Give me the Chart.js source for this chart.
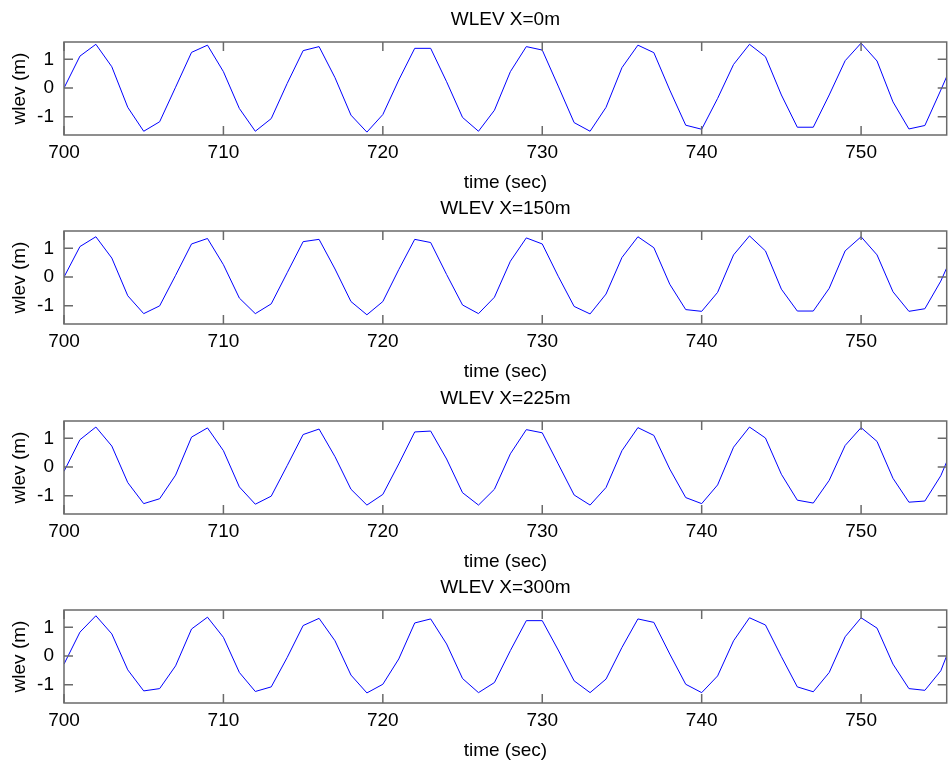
<!DOCTYPE html>
<html>
<head>
<meta charset="utf-8">
<title>WLEV</title>
<script src="https://cdn.jsdelivr.net/npm/chart.js@4.4.1/dist/chart.umd.min.js"></script>
<style>
body { margin: 0; background: #fff; }
#wrap { position: relative; width: 948px; height: 761px; overflow: hidden; }
.plot { position: absolute; left: 0; width: 948px; height: 200px; }
</style>
</head>
<body>
<div id="wrap">
  <div class="plot" style="top:0px"><canvas id="c0" width="948" height="200"></canvas></div>
  <div class="plot" style="top:189px"><canvas id="c1" width="948" height="200"></canvas></div>
  <div class="plot" style="top:379px"><canvas id="c2" width="948" height="200"></canvas></div>
  <div class="plot" style="top:568px"><canvas id="c3" width="948" height="200"></canvas></div>
</div>
<script>
// time axis (sec)
var times = [700, 701, 702, 703, 704, 705, 706, 707, 708, 709,
             710, 711, 712, 713, 714, 715, 716, 717, 718, 719,
             720, 721, 722, 723, 724, 725, 726, 727, 728, 729,
             730, 731, 732, 733, 734, 735, 736, 737, 738, 739,
             740, 741, 742, 743, 744, 745, 746, 747, 748, 749,
             750, 751, 752, 753, 754, 755, 756];

// water level (m) at each station
var wlev0 = [0.0, 1.11, 1.52, 0.74, -0.67, -1.50, -1.17, 0.03, 1.24, 1.49,
             0.57, -0.71, -1.50, -1.06, 0.16, 1.30, 1.44, 0.36, -0.94, -1.53,
             -0.92, 0.28, 1.38, 1.38, 0.22, -1.02, -1.50, -0.77, 0.57, 1.44,
             1.32, 0.07, -1.20, -1.50, -0.67, 0.71, 1.49, 1.23, -0.07, -1.29,
             -1.43, -0.36, 0.82, 1.52, 1.09, -0.24, -1.36, -1.36, -0.24, 0.95,
             1.56, 0.94, -0.48, -1.42, -1.30, -0.07, 1.2];
var wlev150 = [0.0, 1.06, 1.40, 0.66, -0.65, -1.27, -1.00, 0.06, 1.15, 1.34,
               0.43, -0.73, -1.27, -0.93, 0.15, 1.23, 1.31, 0.28, -0.85, -1.31,
               -0.85, 0.26, 1.31, 1.20, 0.09, -0.97, -1.27, -0.70, 0.55, 1.36,
               1.15, 0.03, -1.02, -1.28, -0.59, 0.68, 1.40, 1.02, -0.25, -1.13,
               -1.19, -0.53, 0.77, 1.43, 0.91, -0.42, -1.18, -1.18, -0.39, 0.91,
               1.40, 0.77, -0.51, -1.19, -1.10, -0.14, 1.1];
var wlev225 = [-0.15, 0.95, 1.39, 0.73, -0.54, -1.27, -1.10, -0.28, 1.04, 1.36,
               0.57, -0.69, -1.29, -1.01, 0.05, 1.13, 1.32, 0.36, -0.77, -1.32,
               -0.95, 0.11, 1.22, 1.25, 0.28, -0.89, -1.32, -0.77, 0.46, 1.30,
               1.19, 0.11, -0.97, -1.32, -0.71, 0.57, 1.37, 1.10, -0.07, -1.06,
               -1.27, -0.62, 0.69, 1.39, 1.01, -0.25, -1.15, -1.25, -0.46, 0.75,
               1.37, 0.89, -0.39, -1.22, -1.18, -0.30, 1.0];
var wlev300 = [-0.28, 0.83, 1.40, 0.77, -0.48, -1.21, -1.13, -0.34, 0.94, 1.35,
               0.65, -0.57, -1.23, -1.07, -0.05, 1.06, 1.31, 0.53, -0.66, -1.28,
               -0.98, -0.10, 1.15, 1.29, 0.42, -0.78, -1.27, -0.92, 0.19, 1.23,
               1.23, 0.21, -0.86, -1.27, -0.80, 0.30, 1.29, 1.17, 0.07, -0.98,
               -1.27, -0.69, 0.53, 1.33, 1.08, -0.02, -1.07, -1.24, -0.57, 0.67,
               1.33, 0.97, -0.28, -1.13, -1.19, -0.51, 0.9];

var titles = ['WLEV X=0m', 'WLEV X=150m', 'WLEV X=225m', 'WLEV X=300m'];
var series = [wlev0, wlev150, wlev225, wlev300];
var xTicks = [700, 710, 720, 730, 740, 750];
var yTicks = [-1, 0, 1];
var xMin = 700, xMax = 755.37;
var yMin = -1.63, yMax = 1.6;

Chart.defaults.font.family = '"Liberation Sans", Arial, sans-serif';
Chart.defaults.font.size = 19;
Chart.defaults.font.lineHeight = 1;
Chart.defaults.color = '#000';

// axes box with inward tick marks on all four sides
var boxTicks = {
  id: 'boxTicks',
  afterDatasetsDraw: function(chart) {
    var a = chart.chartArea, ctx = chart.ctx;
    var xs = chart.scales.x, ys = chart.scales.y;
    ctx.save();
    ctx.strokeStyle = '#6a6a6a';
    ctx.lineWidth = 1.5;
    ctx.beginPath();
    xs.ticks.forEach(function(t) {
      var px = xs.getPixelForValue(t.value);
      ctx.moveTo(px, a.top); ctx.lineTo(px, a.top + 9);
      ctx.moveTo(px, a.bottom); ctx.lineTo(px, a.bottom - 9);
    });
    ys.ticks.forEach(function(t) {
      var py = ys.getPixelForValue(t.value);
      ctx.moveTo(a.left, py); ctx.lineTo(a.left + 9, py);
      ctx.moveTo(a.right, py); ctx.lineTo(a.right - 9, py);
    });
    ctx.stroke();
    ctx.strokeRect(a.left, a.top, a.right - a.left, a.bottom - a.top);
    ctx.restore();
  }
};

function makeChart(id, title, values) {
  var pts = times.map(function(t, i) { return {x: t, y: values[i]}; });
  return new Chart(document.getElementById(id), {
    type: 'line',
    data: {
      datasets: [{
        data: pts,
        borderColor: '#0000ff',
        borderWidth: 1,
        pointRadius: 0,
        tension: 0,
        fill: false
      }]
    },
    options: {
      responsive: false,
      animation: false,
      layout: { padding: { left: 0, right: 1.3, top: 0, bottom: 0 } },
      plugins: {
        legend: { display: false },
        tooltip: { enabled: false },
        title: {
          display: true,
          text: title,
          fullSize: false,
          color: '#000',
          font: { size: 19, weight: 'normal' },
          padding: { top: 10.5, bottom: 12.5 }
        }
      },
      scales: {
        x: {
          type: 'linear',
          min: xMin,
          max: xMax,
          afterBuildTicks: function(s) {
            s.ticks = xTicks.map(function(v) { return {value: v}; });
          },
          afterFit: function(s) { s.height = 65; },
          grid: { display: false, drawTicks: false },
          border: { display: false },
          ticks: { autoSkip: false, maxRotation: 0, padding: 8.5 },
          title: { display: true, text: 'time (sec)', padding: { top: 0, bottom: 7.5 } }
        },
        y: {
          type: 'linear',
          min: yMin,
          max: yMax,
          afterBuildTicks: function(s) {
            s.ticks = yTicks.map(function(v) { return {value: v}; });
          },
          afterFit: function(s) { s.width = 64; },
          grid: { display: false, drawTicks: false },
          border: { display: false },
          ticks: { padding: 10 },
          title: { display: true, text: 'wlev (m)', padding: { top: 10.5, bottom: 0 } }
        }
      }
    },
    plugins: [boxTicks]
  });
}

for (var i = 0; i < 4; i++) {
  makeChart('c' + i, titles[i], series[i]);
}
</script>
</body>
</html>
